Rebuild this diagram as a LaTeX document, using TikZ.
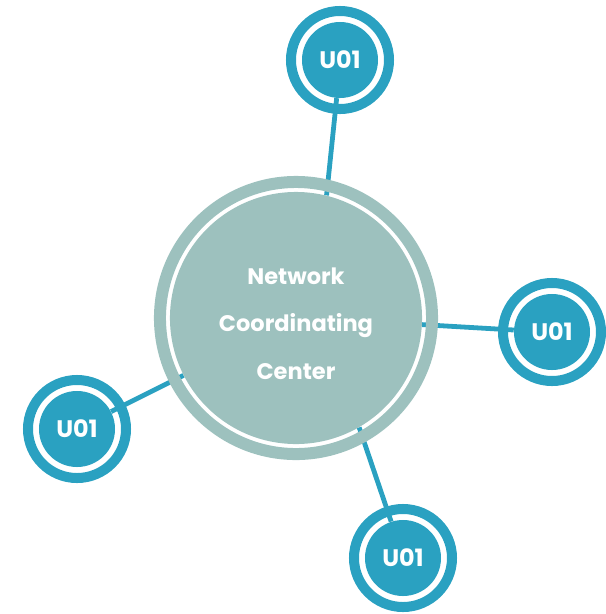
\documentclass[tikz,border=0pt]{standalone}
\usepackage{fontspec}
\setmainfont{Poppins}
\usepackage{tikz}
\usetikzlibrary{backgrounds}
\definecolor{nccgray}{RGB}{157,193,190}
\definecolor{unitblue}{RGB}{42,161,193}

\begin{document}
\begin{tikzpicture}[x=0.025cm, y=-0.025cm,
        NCC/.style={circle, fill=nccgray, text=white, inner sep=0pt, minimum size=6.3cm, align=center,
                    font=\fontsize{16}{34}\selectfont\bfseries},
        UNIT/.style={circle, fill=unitblue, text=white, inner sep=0pt, minimum size=1.9cm,
                    font=\fontsize{17}{18}\selectfont\bfseries},
        NCCRING/.style={draw=nccgray, line width=0.3cm},
        UNITRING/.style={draw=unitblue, line width=0.25cm},
        LINK/.style={draw=unitblue, line width=0.12cm},
        ]
    \useasboundingbox (0,0) rectangle (606,614);

    \node[NCC] (C0) at (296,318) {\\[-0.5cm]Network\\ Coordinating\\ Center};
    \node[UNIT] (U1) at (340,60) {U01};
    \node[UNIT] (U2) at (552,332) {U01};
    \node[UNIT] (U3) at (77,429) {U01};
    \node[UNIT] (U4) at (403,558) {U01};

    % outer rings
    \draw[NCCRING] (C0) circle (3.4cm);
    \foreach \u in {U1,U2,U3,U4}
        \draw[UNITRING] (\u) circle (1.225cm);

    % links behind the discs
    \begin{pgfonlayer}{background}
        \draw[LINK] (C0.76) -- (U1.265);
        \draw[LINK] (C0.-3) -- (U2.177);
        \draw[LINK] (C0.207) -- (U3.27);
        \draw[LINK] (C0.-60) -- (U4.108);
    \end{pgfonlayer}
\end{tikzpicture}
\end{document}
